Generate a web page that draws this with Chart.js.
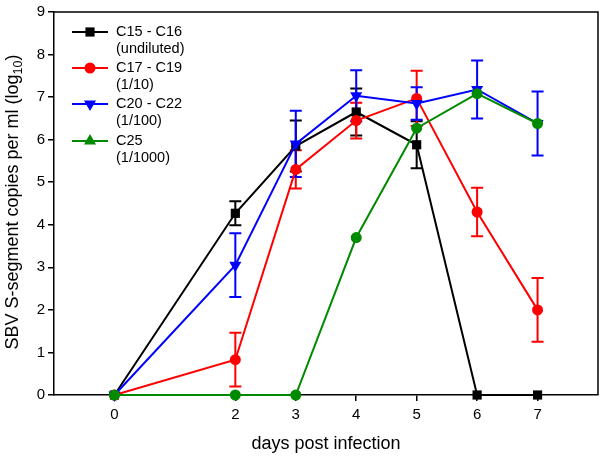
<!DOCTYPE html>
<html>
<head>
<meta charset="utf-8">
<script src="https://cdn.jsdelivr.net/npm/chart.js@4/dist/chart.umd.min.js"></script>
<style>
  body { margin: 0; background: #fff; }
  canvas { display: block; }
</style>
</head>
<body>
<canvas id="infchart" width="600" height="456"></canvas>
<script>
// days post infection
const days = [0, 2, 3, 4, 5, 6, 7];
const xTicks = [0, 2, 3, 4, 5, 6, 7];

// log10 copies per ml, with error bar half-widths
const c15 = [0, 4.27, 5.85, 6.65, 5.88, 0, 0];
const c15Err = [0, 0.28, 0.6, 0.55, 0.55, 0, 0];
const c17 = [0, 0.83, 5.3, 6.45, 6.97, 4.3, 2.0];
const c17Err = [0, 0.63, 0.45, 0.42, 0.65, 0.57, 0.75];
const c20 = [0, 3.05, 5.9, 7.03, 6.85, 7.18, 6.38];
const c20Err = [0, 0.75, 0.78, 0.6, 0.38, 0.68, 0.75];
const c25 = [0, 0, 0, 3.7, 6.27, 7.08, 6.38];

const seriesNames = [['C15 - C16', '(undiluted)'], ['C17 - C19', '(1/10)'], ['C20 - C22', '(1/100)'], ['C25', '(1/1000)']];

const FONT = "'Liberation Sans', Arial, sans-serif";
const BLACK = '#000000', RED = '#ff0000', BLUE = '#0000ff', GREEN = '#008a00';

function pts(vals) {
    return days.map((d, i) => ({x: d, y: vals[i]}));
}

const errorBars = {
    id: 'errorBars',
    beforeDatasetsDraw(chart) {
        const ctx = chart.ctx;
        const xs = chart.scales.x, ys = chart.scales.y;
        chart.data.datasets.forEach(ds => {
            if (!ds.errors) return;
            ctx.save();
            ctx.strokeStyle = ds.borderColor;
            ctx.lineWidth = 2;
            ds.data.forEach((p, i) => {
                const e = ds.errors[i];
                if (!e) return;
                const px = xs.getPixelForValue(p.x);
                const top = ys.getPixelForValue(p.y + e);
                const bot = ys.getPixelForValue(p.y - e);
                ctx.beginPath();
                ctx.moveTo(px, top); ctx.lineTo(px, bot);
                ctx.moveTo(px - 6, top); ctx.lineTo(px + 6, top);
                ctx.moveTo(px - 6, bot); ctx.lineTo(px + 6, bot);
                ctx.stroke();
            });
            ctx.restore();
        });
    }
};

const frameAndText = {
    id: 'frameAndText',
    afterDraw(chart) {
        const ctx = chart.ctx;
        const a = chart.chartArea;
        ctx.save();
        // top and right frame
        ctx.strokeStyle = '#000';
        ctx.lineWidth = 1.5;
        ctx.beginPath();
        ctx.moveTo(a.left, a.top);
        ctx.lineTo(a.right, a.top);
        ctx.lineTo(a.right, a.bottom);
        ctx.stroke();

        // x title
        ctx.fillStyle = '#000';
        ctx.font = '18px ' + FONT;
        ctx.textAlign = 'center';
        ctx.textBaseline = 'alphabetic';
        ctx.fillText('days post infection', (a.left + a.right) / 2, 449);

        // y title with subscript
        const main = 'SBV S-segment copies per ml (log';
        const w1 = ctx.measureText(main).width;
        const w3 = ctx.measureText(')').width;
        ctx.font = '12.5px ' + FONT;
        const w2 = ctx.measureText('10').width;
        const total = w1 + w2 + w3;
        ctx.translate(18, 202);
        ctx.rotate(-Math.PI / 2);
        ctx.textAlign = 'left';
        const x0 = -total / 2;
        ctx.font = '18px ' + FONT;
        ctx.fillText(main, x0, 0);
        ctx.font = '12.5px ' + FONT;
        ctx.fillText('10', x0 + w1, 4);
        ctx.font = '18px ' + FONT;
        ctx.fillText(')', x0 + w1 + w2, 0);
        ctx.restore();

        // legend
        ctx.save();
        const rows = [32, 68, 104, 141];
        const marks = [['rect', 6.5, 0], ['circle', 5.5, 0], ['triangle', 7, 180], ['triangle', 7, 0]];
        chart.data.datasets.forEach((ds, i) => {
            const y = rows[i];
            ctx.strokeStyle = ds.borderColor;
            ctx.fillStyle = ds.borderColor;
            ctx.lineWidth = 2;
            ctx.beginPath();
            ctx.moveTo(72, y); ctx.lineTo(108, y);
            ctx.stroke();
            const m = marks[i];
            Chart.helpers.drawPoint(ctx, {pointStyle: m[0], radius: m[1], rotation: m[2], borderWidth: 0}, 90, y);
            ctx.fillStyle = '#000';
            ctx.font = '14.5px ' + FONT;
            ctx.textBaseline = 'middle';
            ctx.textAlign = 'left';
            ctx.fillText(seriesNames[i][0], 116, y);
            ctx.fillText(seriesNames[i][1], 116, y + 17);
        });
        ctx.restore();
    }
};

function lineSet(label, vals, errs, color, style, radius, rotation, order) {
    return {
        label: label,
        data: pts(vals),
        errors: errs,
        borderColor: color,
        backgroundColor: color,
        borderWidth: 2,
        pointStyle: style,
        pointRadius: radius,
        pointRotation: rotation,
        pointBorderWidth: 0,
        tension: 0,
        clip: false,
        order: order
    };
}

new Chart(document.getElementById('infchart'), {
    type: 'line',
    data: {
        datasets: [
            lineSet('C15 - C16', c15, c15Err, BLACK, 'rect', 6.5, 0, 4),
            lineSet('C17 - C19', c17, c17Err, RED, 'circle', 5.5, 0, 3),
            lineSet('C20 - C22', c20, c20Err, BLUE, 'triangle', 7, 180, 2),
            lineSet('C25', c25, null, GREEN, 'circle', 5.5, 0, 1)
        ]
    },
    options: {
        responsive: false,
        animation: false,
        layout: { padding: { top: 6, right: 2, left: 0, bottom: 0 }, autoPadding: false },
        plugins: { legend: { display: false }, tooltip: { enabled: false } },
        scales: {
            x: {
                type: 'linear',
                min: -1,
                max: 8,
                afterBuildTicks: s => { s.ticks = xTicks.map(v => ({value: v})); },
                afterFit: s => { s.height = 61; },
                grid: { drawOnChartArea: false, tickLength: 6, color: '#000', lineWidth: 1.5 },
                border: { color: '#000', width: 1.5 },
                ticks: { color: '#000', font: { family: FONT, size: 15 }, padding: 5, maxRotation: 0 }
            },
            y: {
                min: 0,
                max: 9,
                afterFit: s => { s.width = 54; },
                grid: { drawOnChartArea: false, tickLength: 6, color: '#000', lineWidth: 1.5 },
                border: { color: '#000', width: 1.5 },
                ticks: { stepSize: 1, color: '#000', font: { family: FONT, size: 15 }, padding: 3 }
            }
        }
    },
    plugins: [errorBars, frameAndText]
});
</script>
</body>
</html>
